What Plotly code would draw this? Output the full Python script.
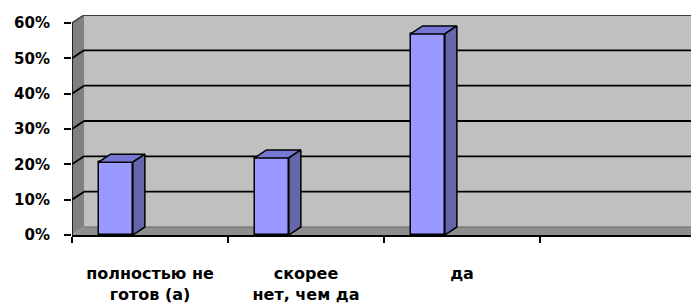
import plotly.graph_objects as go

# ---- data ----
categories = ["полностью не<br>готов (а)", "скорее<br>нет, чем да", "да", ""]
values = [0.206, 0.218, 0.569, None]
y_ticks = [0.0, 0.1, 0.2, 0.3, 0.4, 0.5, 0.6]

# ---- styling / geometry ----
DX = 0.077      # depth offset in x data units
DY = 0.0227     # depth offset in y data units
XMAX = 4.019
YTOP = 0.6
BAR_W = 0.22
BAR_OFF = -0.33
FRONT = "#9999FF"
TOP = "#7777D6"
SIDE = "#6666AA"
YFONT = dict(family="DejaVu Sans", size=15, color="black", weight="bold")
XFONT = dict(family="DejaVu Sans", size=16, color="black", weight="bold")

x_pos = [i + 0.5 for i in range(len(categories))]
bx = [x for x, v in zip(x_pos, values) if v is not None]
bv = [v for v in values if v is not None]

fig = go.Figure()

fig.add_trace(go.Bar(
    x=bx, y=bv, width=BAR_W, offset=BAR_OFF,
    marker=dict(color=FRONT, line=dict(color="black", width=1.5)),
    showlegend=False, hoverinfo="skip"))

for x, v in zip(bx, bv):
    x0 = x + BAR_OFF
    x1 = x0 + BAR_W
    fig.add_trace(go.Scatter(
        x=[x0, x0 + DX, x1 + DX, x1, x0], y=[v, v + DY, v + DY, v, v],
        fill="toself", fillcolor=TOP, mode="lines",
        line=dict(color="black", width=1.5), showlegend=False, hoverinfo="skip"))
    fig.add_trace(go.Scatter(
        x=[x1, x1 + DX, x1 + DX, x1, x1], y=[v, v + DY, DY, 0, v],
        fill="toself", fillcolor=SIDE, mode="lines",
        line=dict(color="black", width=1.5), showlegend=False, hoverinfo="skip"))

shapes = []
# back wall
shapes.append(dict(type="rect", xref="x", yref="y", x0=DX, x1=XMAX + 0.1, y0=DY, y1=YTOP + DY,
                   fillcolor="#C0C0C0", line=dict(width=0), layer="below"))
# side wall
shapes.append(dict(type="path", xref="x", yref="y",
                   path=f"M 0 0 L 0 {YTOP} L {DX} {YTOP + DY} L {DX} {DY} Z",
                   fillcolor="#808080", line=dict(width=0), layer="below"))
# floor
shapes.append(dict(type="path", xref="x", yref="y",
                   path=f"M 0 0 L {DX} {DY} L {XMAX + 0.1} {DY} L {XMAX + 0.1} 0 Z",
                   fillcolor="#8E8E8E", line=dict(width=0), layer="below"))
# gridlines on walls
for t in y_ticks[1:-1]:
    shapes.append(dict(type="line", xref="x", yref="y", x0=DX, x1=XMAX + 0.1, y0=t + DY, y1=t + DY,
                       line=dict(color="black", width=1.8), layer="below"))
    shapes.append(dict(type="line", xref="x", yref="y", x0=0, x1=DX, y0=t, y1=t + DY,
                       line=dict(color="black", width=1.8), layer="below"))
# top edge of walls
shapes.append(dict(type="line", xref="x", yref="y", x0=DX, x1=XMAX + 0.1, y0=YTOP + DY, y1=YTOP + DY,
                   line=dict(color="#404040", width=2), layer="below"))
shapes.append(dict(type="line", xref="x", yref="y", x0=0, x1=DX, y0=YTOP, y1=YTOP + DY,
                   line=dict(color="#404040", width=1.5), layer="below"))
# floor back edge
shapes.append(dict(type="line", xref="x", yref="y", x0=DX, x1=XMAX + 0.1, y0=DY, y1=DY,
                   line=dict(color="#6a6a6a", width=1), layer="below"))
# y axis line
shapes.append(dict(type="line", xref="x", yref="y", x0=0, x1=0, y0=0, y1=YTOP,
                   line=dict(color="black", width=1.5)))

# the page body has an 8px margin, so the figure is drawn 8px right/down
fig.update_layout(
    width=691, height=298,
    margin=dict(l=64, r=0, t=7, b=71, autoexpand=False),
    paper_bgcolor="white", plot_bgcolor="white",
    shapes=shapes,
    bargap=0,
    xaxis=dict(range=[0, XMAX], tickmode="array", tickvals=x_pos, ticktext=categories,
               ticks="", showline=True, linecolor="black", linewidth=1.5, automargin=False,
               showgrid=False, zeroline=False, tickfont=XFONT, ticklabelstandoff=23,
               minor=dict(tickmode="array", tickvals=[0, 1, 2, 3, 4], ticks="outside",
                          ticklen=6, tickcolor="black", tickwidth=1.5, showgrid=False)),
    yaxis=dict(range=[0, YTOP + DY], tickmode="array", tickvals=y_ticks, tickformat=".0%",
               ticks="outside", ticklen=7, tickcolor="black", tickwidth=1.5, automargin=False,
               showline=False, showgrid=False, zeroline=False, tickfont=YFONT,
               ticklabelstandoff=11),
)

fig.write_html("out.html")
